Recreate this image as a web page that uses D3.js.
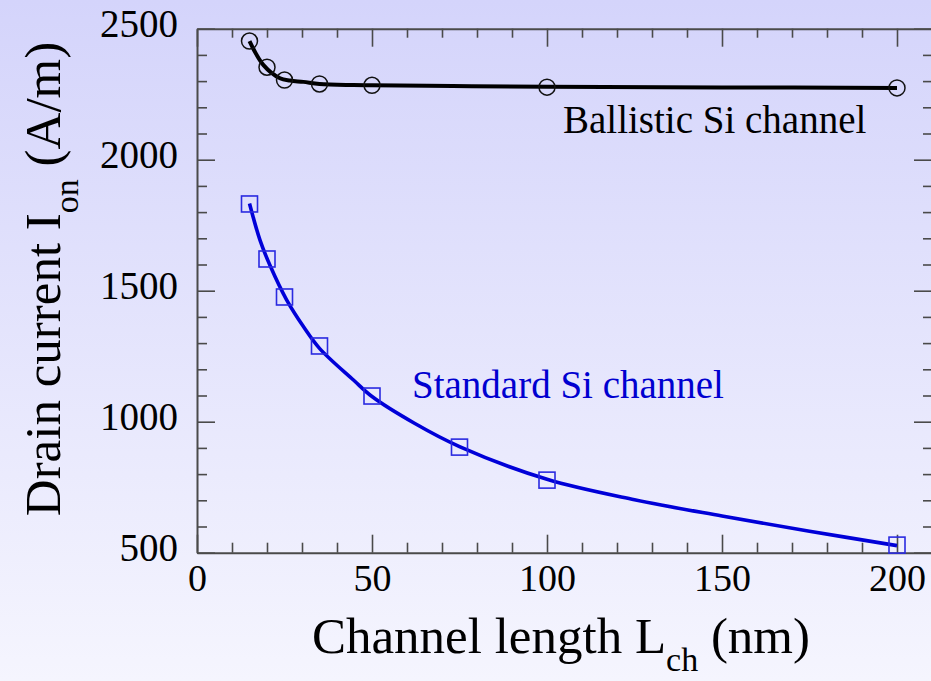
<!DOCTYPE html>
<html>
<head>
<meta charset="utf-8">
<script src="https://cdn.jsdelivr.net/npm/d3@7"></script>
<style>
  html, body { margin: 0; padding: 0; }
  body { width: 931px; height: 681px; overflow: hidden; }
  svg { display: block; font-family: "Liberation Serif", "Times New Roman", serif; }
</style>
</head>
<body>
<svg id="chart" width="931" height="681"></svg>
<script>
// Measured on-current vs channel length
const ballisticL = [15, 20, 25, 35, 50, 100, 200];
const ballisticI = [2453, 2353, 2304, 2289, 2284, 2277, 2274];
const standardL = [15, 20, 25, 35, 50, 75, 100, 200];
const standardI = [1831, 1621, 1476, 1289, 1098, 903, 777, 529];

// Fitted trend curves
const ballisticFitL = [15, 19, 23.7, 26.6, 30.4, 35, 44.7, 50, 73, 100, 150, 200];
const ballisticFitI = [2453, 2361, 2311, 2302, 2297, 2289, 2285, 2284, 2281, 2278, 2276, 2274];
const standardFitL = [15, 18, 21, 25.6, 30.4, 35, 44.7, 50, 62, 75, 100, 125, 150, 175, 200];
const standardFitI = [1833, 1693, 1592, 1465, 1363, 1280, 1159, 1096, 995, 905, 780, 702, 640, 582, 527];

// Axis ticks
const xMajor = [0, 50, 100, 150, 200];
const xMinor = [10, 20, 30, 40, 60, 70, 80, 90, 110, 120, 130, 140, 160, 170, 180, 190];
const yMajor = [500, 1000, 1500, 2000, 2500];
const yMinor = [600, 700, 800, 900, 1100, 1200, 1300, 1400, 1600, 1700, 1800, 1900, 2100, 2200, 2300, 2400];

const svg = d3.select("#chart");

// Background wash
const defs = svg.append("defs");
const grad = defs.append("linearGradient").attr("id", "bg")
  .attr("x1", 0).attr("y1", 0).attr("x2", 0).attr("y2", 1);
grad.append("stop").attr("offset", "0%").attr("stop-color", "#d4d4fb");
grad.append("stop").attr("offset", "100%").attr("stop-color", "#f5f5fe");
svg.append("rect").attr("width", 931).attr("height", 681).attr("fill", "url(#bg)");

const plotLeft = 197, plotRight = 932, plotTop = 28.7, plotBottom = 552.7;
const x = d3.scaleLinear().domain([0, 210]).range([plotLeft, plotRight]);
const y = d3.scaleLinear().domain([500, 2500]).range([plotBottom, plotTop]);
const fmt = d3.format("d");

const axisColor = "#4a4a4a";
function style(g) {
  g.selectAll("path.domain").attr("stroke", axisColor).attr("stroke-width", 2);
  g.selectAll(".tick line").attr("stroke", axisColor).attr("stroke-width", 1.6);
}

// Bottom axis with labels
const gB = svg.append("g").attr("transform", `translate(0,${plotBottom})`)
  .call(d3.axisBottom(x).tickValues(xMajor).tickFormat(fmt).tickSize(-18).tickPadding(11).tickSizeOuter(0));
gB.selectAll("text").attr("font-size", 38).attr("fill", "#000")
  .attr("font-family", "Liberation Serif, serif");
style(gB);
svg.append("g").attr("transform", `translate(0,${plotBottom})`)
  .call(d3.axisBottom(x).tickValues(xMinor).tickSize(-10).tickFormat("").tickSizeOuter(0))
  .call(style).select("path.domain").remove();

// Top axis
svg.append("g").attr("transform", `translate(0,${plotTop})`)
  .call(d3.axisTop(x).tickValues(xMajor).tickSize(-18).tickFormat("").tickSizeOuter(0)).call(style);
svg.append("g").attr("transform", `translate(0,${plotTop})`)
  .call(d3.axisTop(x).tickValues(xMinor).tickSize(-9).tickFormat("").tickSizeOuter(0))
  .call(style).select("path.domain").remove();

// Left axis with labels
const gL = svg.append("g").attr("transform", `translate(${plotLeft},0)`)
  .call(d3.axisLeft(y).tickValues(yMajor).tickFormat(fmt).tickSize(-18).tickPadding(19).tickSizeOuter(0));
gL.selectAll("text").attr("font-size", 39).attr("fill", "#000").attr("dy", "0.2em")
  .attr("font-family", "Liberation Serif, serif");
style(gL);
svg.append("g").attr("transform", `translate(${plotLeft},0)`)
  .call(d3.axisLeft(y).tickValues(yMinor).tickSize(-10).tickFormat("").tickSizeOuter(0))
  .call(style).select("path.domain").remove();

// Right axis
svg.append("g").attr("transform", `translate(${plotRight},0)`)
  .call(d3.axisRight(y).tickValues(yMajor).tickSize(-18).tickFormat("").tickSizeOuter(0)).call(style);
svg.append("g").attr("transform", `translate(${plotRight},0)`)
  .call(d3.axisRight(y).tickValues(yMinor).tickSize(-9).tickFormat("").tickSizeOuter(0))
  .call(style).select("path.domain").remove();

const line = d3.line().x(d => x(d[0])).y(d => y(d[1])).curve(d3.curveCatmullRom.alpha(0.5));

// Ballistic channel
const ballisticFit = ballisticFitL.map((l, i) => [l, ballisticFitI[i]]);
svg.append("path").datum(ballisticFit).attr("d", line)
  .attr("fill", "none").attr("stroke", "#000").attr("stroke-width", 4).attr("stroke-linejoin", "round");
svg.append("g").selectAll("circle")
  .data(ballisticL.map((l, i) => [l, ballisticI[i]]))
  .join("circle")
  .attr("cx", d => x(d[0])).attr("cy", d => y(d[1])).attr("r", 8)
  .attr("fill", "none").attr("stroke", "#111").attr("stroke-width", 1.5);

// Standard channel
const standardFit = standardFitL.map((l, i) => [l, standardFitI[i]]);
svg.append("path").datum(standardFit).attr("d", line)
  .attr("fill", "none").attr("stroke", "#0000d8").attr("stroke-width", 3.6).attr("stroke-linejoin", "round");
svg.append("g").selectAll("rect")
  .data(standardL.map((l, i) => [l, standardI[i]]))
  .join("rect")
  .attr("x", d => x(d[0]) - 8).attr("y", d => y(d[1]) - 8)
  .attr("width", 16).attr("height", 16)
  .attr("fill", "none").attr("stroke", "#2a2ae0").attr("stroke-width", 1.6);

// Series labels
svg.append("text").attr("x", 563).attr("y", 133).attr("font-size", 39).attr("fill", "#000")
  .text("Ballistic Si channel");
svg.append("text").attr("x", 412).attr("y", 398).attr("font-size", 39).attr("fill", "#0000d0")
  .text("Standard Si channel");

// Axis titles
const xt = svg.append("text").attr("x", 561).attr("y", 653).attr("text-anchor", "middle")
  .attr("font-size", 51).attr("fill", "#000");
xt.append("tspan").text("Channel length L");
xt.append("tspan").attr("font-size", 34).attr("dy", 18).text("ch");
xt.append("tspan").attr("dy", -18).text(" (nm)");

const yt = svg.append("text").attr("transform", "translate(60,279) rotate(-90)")
  .attr("text-anchor", "middle").attr("font-size", 51).attr("fill", "#000");
yt.append("tspan").text("Drain current I");
yt.append("tspan").attr("font-size", 34).attr("dy", 18).text("on");
yt.append("tspan").attr("dy", -18).text(" (A/m)");
</script>
</body>
</html>
